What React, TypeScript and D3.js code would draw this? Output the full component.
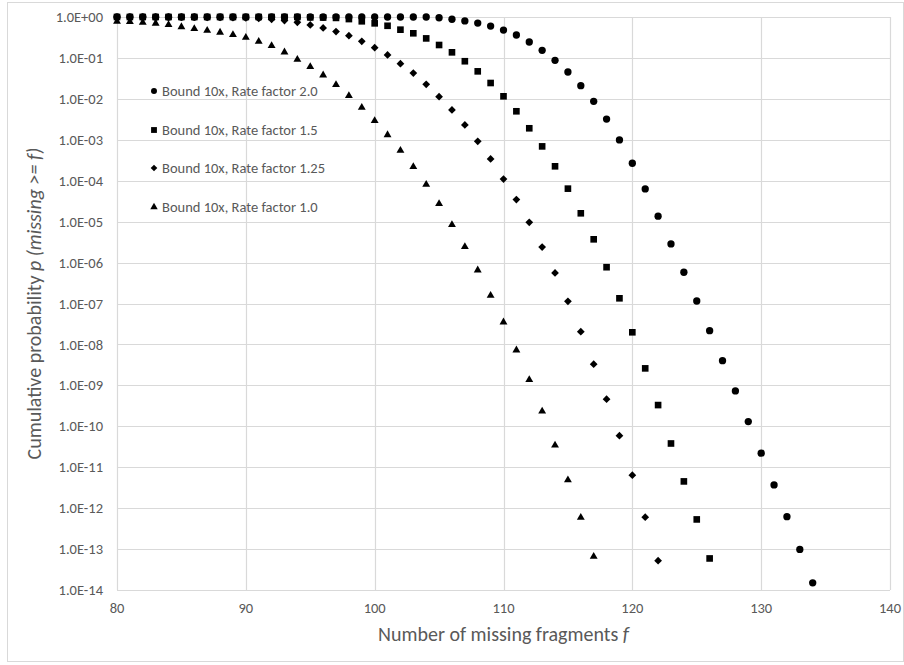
import React from "react";
import * as d3 from "d3";

// Number of missing fragments f for each series
const fCircle = d3.range(80, 135);
const fSquare = d3.range(80, 127);
const fDiamond = d3.range(80, 123);
const fTriangle = d3.range(80, 118);

// Cumulative probability p(missing >= f)
const pRate20 = [
  1, 1, 1, 1, 1, 1, 1, 1, 1, 1,
  1, 1, 1, 1, 1, 1, 1, 1, 1, 1,
  1, 1, 1, 1, 1, 0.96, 0.88, 0.8, 0.71, 0.6,
  0.48, 0.363, 0.245, 0.153, 0.0875, 0.0453, 0.021, 8.7e-3, 3.2e-3, 9.9e-4,
  2.67e-4, 6.3e-5, 1.36e-5, 2.86e-6, 5.8e-7, 1.15e-7, 2.17e-8, 4.0e-9, 7.3e-10, 1.3e-10,
  2.2e-11, 3.7e-12, 6.2e-13, 9.8e-14, 1.5e-14,
];
const pRate15 = [
  1, 1, 1, 1, 1, 1, 1, 1, 1, 1,
  1, 1, 1, 1, 1, 0.98, 0.97, 0.95, 0.89, 0.785,
  0.7, 0.61, 0.49, 0.4, 0.3, 0.207, 0.137, 0.083, 0.047, 0.0244,
  0.01155, 4.97e-3, 1.91e-3, 6.9e-4, 2.25e-4, 6.4e-5, 1.6e-5, 3.7e-6, 7.7e-7, 1.34e-7,
  1.98e-8, 2.6e-9, 3.3e-10, 3.8e-11, 4.5e-12, 5.3e-13, 5.9e-14,
];
const pRate125 = [
  1, 1, 1, 0.99, 0.99, 0.99, 0.99, 0.98, 0.98, 0.97,
  0.95, 0.92, 0.88, 0.82, 0.74, 0.64, 0.54, 0.44, 0.35, 0.255,
  0.178, 0.118, 0.0723, 0.0428, 0.0227, 0.0113, 5.35e-3, 2.3e-3, 9.2e-4, 3.4e-4,
  1.1e-4, 3.46e-5, 9.6e-6, 2.4e-6, 5.6e-7, 1.13e-7, 2.05e-8, 3.3e-9, 4.6e-10, 5.9e-11,
  6.4e-12, 6.0e-13, 5.2e-14,
];
const pRate10 = [
  0.81, 0.8, 0.77, 0.73, 0.675, 0.6, 0.54, 0.49, 0.44, 0.384,
  0.33, 0.264, 0.207, 0.145, 0.0957, 0.0635, 0.0398, 0.0231, 0.0124, 6.4e-3,
  3.05e-3, 1.38e-3, 5.7e-4, 2.29e-4, 8.45e-5, 2.86e-5, 8.8e-6, 2.54e-6, 6.85e-7, 1.64e-7,
  3.67e-8, 7.6e-9, 1.43e-9, 2.43e-10, 3.6e-11, 5.1e-12, 6.2e-13, 6.9e-14,
];

const seriesNames = [
  "Bound 10x, Rate factor 2.0",
  "Bound 10x, Rate factor 1.5",
  "Bound 10x, Rate factor 1.25",
  "Bound 10x, Rate factor 1.0",
];

const xTicks = [80, 90, 100, 110, 120, 130, 140];
const yTicks = d3.range(0, 15).map((k) => Math.pow(10, -k));
const yTickLabels = [
  "1.0E+00", "1.0E-01", "1.0E-02", "1.0E-03", "1.0E-04",
  "1.0E-05", "1.0E-06", "1.0E-07", "1.0E-08", "1.0E-09",
  "1.0E-10", "1.0E-11", "1.0E-12", "1.0E-13", "1.0E-14",
];

const W = 904;
const H = 665;
const plot = { left: 117, right: 890, top: 17, bottom: 590 };
const FONT = "Carlito, Lato, 'Open Sans', sans-serif";
const GRID = "#d9d9d9";
const TEXT = "#595959";

const x = d3.scaleLinear().domain([80, 140]).range([plot.left, plot.right]);
const y = d3.scaleLog().domain([1e-14, 1]).range([plot.bottom, plot.top]);

type Shape = "circle" | "square" | "diamond" | "triangle";

const symbolPath: Record<Shape, string> = {
  circle: d3.symbol(d3.symbolCircle, 42)() as string,
  square: d3.symbol(d3.symbolSquare, 44)() as string,
  diamond: d3.symbol(d3.symbolSquare, 30)() as string,
  triangle: d3.symbol(d3.symbolTriangle, 27)() as string,
};

const legendPath: Record<Shape, string> = {
  circle: d3.symbol(d3.symbolCircle, 28)() as string,
  square: d3.symbol(d3.symbolSquare, 34)() as string,
  diamond: d3.symbol(d3.symbolSquare, 22)() as string,
  triangle: d3.symbol(d3.symbolTriangle, 24)() as string,
};

function Marker({ shape, cx, cy }: { shape: Shape; cx: number; cy: number }) {
  const rot = shape === "diamond" ? " rotate(45)" : "";
  const dy = shape === "triangle" ? 0.8 : 0;
  return (
    <path
      d={symbolPath[shape]}
      transform={`translate(${cx},${cy + dy})${rot}`}
      fill="#000"
    />
  );
}

const series: { name: string; shape: Shape; f: number[]; p: number[] }[] = [
  { name: seriesNames[0], shape: "circle", f: fCircle, p: pRate20 },
  { name: seriesNames[1], shape: "square", f: fSquare, p: pRate15 },
  { name: seriesNames[2], shape: "diamond", f: fDiamond, p: pRate125 },
  { name: seriesNames[3], shape: "triangle", f: fTriangle, p: pRate10 },
];

const legendRowsY = [91, 130, 168, 207];

export default function App() {
  return (
    <svg
      width={W}
      height={H}
      style={{ position: "absolute", left: 0, top: 0, background: "#fff" }}
      fontFamily={FONT}
    >
      <rect x={0} y={0} width={W} height={H} fill="#fff" />
      <rect x={7.5} y={2.5} width={896} height={659} fill="none" stroke={GRID} />

      {/* gridlines */}
      {yTicks.map((t, i) => (
        <line
          key={`gy${i}`}
          x1={plot.left}
          x2={plot.right}
          y1={Math.round(y(t)) + 0.5}
          y2={Math.round(y(t)) + 0.5}
          stroke={GRID}
          strokeWidth={1.2}
        />
      ))}
      {xTicks.map((t) => (
        <line
          key={`gx${t}`}
          x1={Math.round(x(t)) + 0.5}
          x2={Math.round(x(t)) + 0.5}
          y1={plot.top}
          y2={plot.bottom}
          stroke={GRID}
          strokeWidth={1.2}
        />
      ))}

      {/* tick labels */}
      {yTicks.map((t, i) => (
        <text
          key={`ly${i}`}
          x={103}
          y={y(t)}
          dy="0.35em"
          textAnchor="end"
          fontSize={14.5}
          fill={TEXT}
        >
          {yTickLabels[i]}
        </text>
      ))}
      {xTicks.map((t) => (
        <text
          key={`lx${t}`}
          x={x(t)}
          y={613}
          textAnchor="middle"
          fontSize={14.5}
          fill={TEXT}
        >
          {t}
        </text>
      ))}

      {/* axis titles */}
      <text
        x={(plot.left + plot.right) / 2}
        y={641}
        textAnchor="middle"
        fontSize={20}
        fill={TEXT}
      >
        Number of missing fragments <tspan fontStyle="italic">f</tspan>
      </text>
      <text
        transform={`translate(41,${(plot.top + plot.bottom) / 2}) rotate(-90)`}
        textAnchor="middle"
        fontSize={20}
        fill={TEXT}
      >
        Cumulative probability{" "}
        <tspan fontStyle="italic">p (missing &gt;= f)</tspan>
      </text>

      {/* data points */}
      {series.map((s) => (
        <g key={s.name}>
          {s.f.map((f, i) => (
            <Marker key={f} shape={s.shape} cx={x(f)} cy={y(s.p[i])} />
          ))}
        </g>
      ))}

      {/* legend */}
      {series.map((s, i) => (
        <g key={`lg${i}`}>
          <path
            d={legendPath[s.shape]}
            transform={`translate(154,${legendRowsY[i]})${s.shape === "diamond" ? " rotate(45)" : ""}`}
            fill="#000"
          />
          <text
            x={162}
            y={legendRowsY[i]}
            dy="0.35em"
            fontSize={14.5}
            fill={TEXT}
          >
            {s.name}
          </text>
        </g>
      ))}
    </svg>
  );
}
